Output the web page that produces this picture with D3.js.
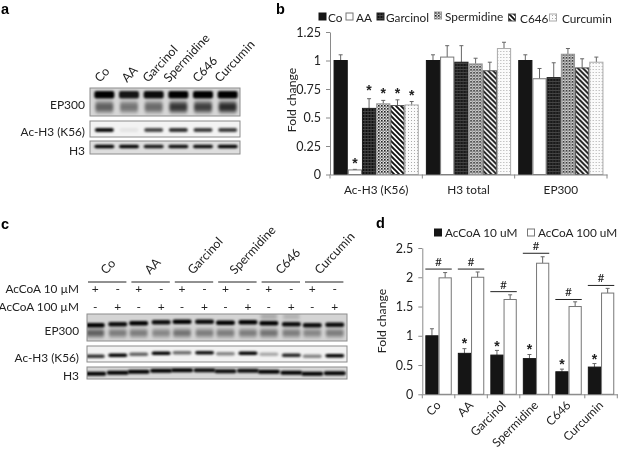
<!DOCTYPE html>
<html>
<head>
<meta charset="utf-8">
<script src="https://cdnjs.cloudflare.com/ajax/libs/d3/7.8.5/d3.min.js"></script>
<style>
  body { margin: 0; background: #fff; }
  text { font-family: Lato, "Open Sans", sans-serif; fill: #222; }
  .letter { font-family: "Liberation Sans", Arial, sans-serif; font-weight: bold; font-size: 14.5px; fill: #000; }
  .star { font-family: "Liberation Sans", Arial, sans-serif; font-weight: bold; font-size: 14px; fill: #222; }
  .axis path, .axis line { stroke: #8a8a8a; }
  .axis text { font-size: 12.5px; fill: #222; font-family: Lato, sans-serif; }
</style>
</head>
<body>
<div class="canvas"></div>
<script>
// ---- data ----
const treatments = ['Co', 'AA', 'Garcinol', 'Spermidine', 'C646', 'Curcumin'];
const markers = ['Ac-H3 (K56)', 'H3 total', 'EP300'];

// panel b, one row per marker, one value per treatment
const acH3Values = [1, 0.04, 0.58, 0.62, 0.605, 0.61];
const acH3Tops = [1.05, 0.045, 0.665, 0.65, 0.655, 0.64];
const h3Values = [1, 1.03, 0.985, 0.97, 0.91, 1.105];
const h3Tops = [1.05, 1.13, 1.13, 1.02, 0.985, 1.16];
const ep300Values = [1, 0.84, 0.85, 1.055, 0.935, 0.985];
const ep300Tops = [1.05, 0.93, 0.98, 1.105, 1.015, 1.03];
const acH3Stars = [null, 0.117, 0.76, 0.736, 0.736, 0.718];

// panel d
const doses = ['AcCoA 10 uM', 'AcCoA 100 uM'];
const low = [1, 0.7, 0.67, 0.61, 0.385, 0.465];
const lowTops = [1.12, 0.78, 0.75, 0.68, 0.43, 0.525];
const high = [1.99, 2.0, 1.62, 2.24, 1.5, 1.73];
const highTops = [2.08, 2.09, 1.7, 2.35, 1.58, 1.81];
const lowStars = [null, 0.917, 0.86, 0.8, 0.547, 0.643];
const brackets = [2.14, 2.14, 1.754, 2.41, 1.62, 1.86];

// blot a, band darkness per lane
const aEp300Main = [1, 0.9, 0.95, 1, 1, 1];
const aEp300Smear = [0.55, 0.45, 0.5, 0.75, 0.7, 0.8];
const aAcH3 = [0.95, 0.06, 0.7, 0.8, 0.75, 0.75];
const aH3 = [1, 1, 0.9, 0.95, 0.95, 1];

// blot c, band darkness per lane (10 uM, 100 uM alternating)
const cEp300Main = [1, 0.95, 1, 0.95, 1, 0.95, 1, 1, 1, 0.95, 0.95, 0.95];
const cEp300Smear = [0.6, 0.45, 0.45, 0.4, 0.5, 0.45, 0.45, 0.45, 0.5, 0.45, 0.4, 0.45];
const cEp300Upper = [0, 0, 0, 0, 0, 0, 0, 0, 0.25, 0.2, 0, 0];
const cAcH3 = [0.8, 1, 0.6, 1, 0.55, 0.95, 0.45, 1, 0.3, 0.85, 0.45, 1];
const cH3 = [1, 1, 1, 1, 1, 0.95, 0.95, 0.95, 1, 1, 1, 1];
const cTilt = [1.5, 0.5, -0.5, -1.5, -2, -2, -1, -1.5, -0.5, 0.5, 1.5, 1];
const cPlus10 = ['+', '-', '+', '-', '+', '-', '+', '-', '+', '-', '+', '-'];
const cPlus100 = ['-', '+', '-', '+', '-', '+', '-', '+', '-', '+', '-', '+'];

//svg setup
const svg = d3.select('.canvas').append('svg')
  .attr('width', 618).attr('height', 452)
  .style('display', 'block')
  .style('filter', 'blur(0.3px)'); // the reference is a soft low-res scan
const defs = svg.append('defs');

defs.append('filter').attr('id', 'soft')
  .attr('x', '-30%').attr('y', '-80%').attr('width', '160%').attr('height', '260%')
  .append('feGaussianBlur').attr('stdDeviation', '1.1 0.8');
defs.append('filter').attr('id', 'softer')
  .attr('x', '-30%').attr('y', '-80%').attr('width', '160%').attr('height', '260%')
  .append('feGaussianBlur').attr('stdDeviation', '1.6 2');

// bar fills
const pat = (id, size, bg, draw) => {
  const p = defs.append('pattern').attr('id', id)
    .attr('patternUnits', 'userSpaceOnUse').attr('width', size).attr('height', size);
  p.append('rect').attr('width', size).attr('height', size).attr('fill', bg);
  draw(p);
};
pat('garcinol', 3, '#2a2a2a', p => {
  p.append('rect').attr('width', 1).attr('height', 3).attr('fill', '#111');
  p.append('rect').attr('width', 3).attr('height', 1).attr('fill', '#444');
});
pat('spermidine', 3, '#e4e4e4', p => {
  p.append('rect').attr('width', 1.6).attr('height', 1.6).attr('fill', '#222');
  p.append('rect').attr('x', 1.5).attr('y', 1.5).attr('width', 1.2).attr('height', 1.2).attr('fill', '#444');
});
pat('c646', 5, '#fff', p => {
  p.append('path').attr('d', 'M-1,-1L6,6M-1,4L1,6M4,-1L6,1')
    .attr('stroke', '#111').attr('stroke-width', 1.9);
});
pat('curcumin', 3, '#fbfbfb', p => {
  p.append('rect').attr('width', 1).attr('height', 1).attr('fill', '#aaa');
});
const fills = ['#151515', '#fff', 'url(#garcinol)', 'url(#spermidine)', 'url(#c646)', 'url(#curcumin)'];
const strokes = ['#151515', '#777', '#222', '#999', '#555', '#aaa'];

const label = (x, y, txt, size, anchor, rotate) => svg.append('text')
  .attr('transform', `translate(${x},${y})` + (rotate ? ` rotate(${rotate})` : ''))
  .attr('text-anchor', anchor || 'start')
  .attr('font-size', size || 12)
  .text(txt);

[['a', 1, 14], ['b', 276, 14], ['c', 1, 229], ['d', 376, 228]].forEach(d => {
  svg.append('text').attr('class', 'letter').attr('x', d[1]).attr('y', d[2]).text(d[0]);
});

// ---- western blots ----
const drawBlot = (x0, x1, y0, y1, bg, bands) => {
  const id = 'clip' + Math.round(y0);
  defs.append('clipPath').attr('id', id).append('rect')
    .attr('x', x0).attr('y', y0).attr('width', x1 - x0).attr('height', y1 - y0);
  const g = svg.append('g');
  g.append('rect').attr('x', x0).attr('y', y0).attr('width', x1 - x0).attr('height', y1 - y0)
    .attr('fill', bg);
  const inner = g.append('g').attr('clip-path', `url(#${id})`);
  bands.forEach(b => {
    inner.selectAll(null).data(b.values).join('rect')
      .attr('x', (d, i) => b.x(i) - b.w / 2)
      .attr('y', (d, i) => y0 + b.at * (y1 - y0) - b.h / 2 + (b.tilt ? b.tilt[i] : 0))
      .attr('width', b.w).attr('height', b.h)
      .attr('rx', 2)
      .attr('fill', '#050505').attr('fill-opacity', d => d)
      .attr('filter', `url(#${b.blur || 'soft'})`);
  });
  g.append('rect').attr('x', x0).attr('y', y0).attr('width', x1 - x0).attr('height', y1 - y0)
    .attr('fill', 'none').attr('stroke', '#8c8c8c');
};

// blot a
const laneA = d3.scaleBand().domain(treatments).range([92, 240]);
const ax = i => laneA(treatments[i]) + laneA.bandwidth() / 2;
drawBlot(90, 240, 88, 116, '#d6d6d6', [
  { x: ax, at: 0.24, h: 7.5, w: 20, values: aEp300Main },
  { x: ax, at: 0.68, h: 10, w: 18, values: aEp300Smear, blur: 'softer' }
]);
drawBlot(90, 240, 121, 137, '#f3f3f3', [{ x: ax, at: 0.56, h: 4, w: 19, values: aAcH3 }]);
drawBlot(90, 240, 141, 154, '#dedede', [{ x: ax, at: 0.42, h: 3.5, w: 20, values: aH3 }]);

const aTextX = [100, 127, 148, 169, 198, 220];
treatments.forEach((t, i) => label(aTextX[i], 83, t, 12.3, 'start', -47));
label(85, 109, 'EP300', 12, 'end');
label(85, 136, 'Ac-H3 (K56)', 11.8, 'end');
label(85, 155, 'H3', 12, 'end');

// blot c
const groupC = d3.scaleBand().domain(treatments).range([85, 345.4]);
const innerC = d3.scaleBand().domain(doses).range([-1, 44]);
const cx = i => groupC(treatments[Math.floor(i / 2)]) + innerC(doses[i % 2]) + innerC.bandwidth() / 2;
drawBlot(87, 347, 314, 341, '#d4d4d4', [
  { x: cx, at: 0.09, h: 5, w: 17, values: cEp300Upper, blur: 'softer' },
  { x: cx, at: 0.36, h: 4.5, w: 19, values: cEp300Main, tilt: cTilt },
  { x: cx, at: 0.7, h: 7, w: 18, values: cEp300Smear, blur: 'softer' }
]);
drawBlot(87, 347, 346, 362, '#f2f2f2', [{ x: cx, at: 0.55, h: 3.5, w: 19, values: cAcH3, tilt: cTilt }]);
drawBlot(87, 347, 367, 379, '#d8d8d8', [{ x: cx, at: 0.44, h: 4, w: 22, values: cH3, tilt: cTilt }]);

const cTextX = [106, 150, 193, 235, 281, 320];
treatments.forEach((t, i) => {
  label(cTextX[i], 275, t, 12.3, 'start', -47);
  svg.append('line')
    .attr('x1', groupC(t) + 3).attr('x2', groupC(t) + groupC.bandwidth() - 2)
    .attr('y1', 282).attr('y2', 282).attr('stroke', '#222').attr('stroke-width', 1);
});
cPlus10.forEach((s, i) => label(cx(i), 293, s, 12, 'middle'));
cPlus100.forEach((s, i) => label(cx(i), 311, s, 12, 'middle'));
label(79, 293, 'AcCoA 10 µM', 11.8, 'end');
label(79, 311, 'AcCoA 100 µM', 11.8, 'end');
label(79, 335, 'EP300', 11.8, 'end');
label(79, 362, 'Ac-H3 (K56)', 11.8, 'end');
label(79, 380, 'H3', 12, 'end');

// ---- panel b ----
const yB = d3.scaleLinear().domain([0, 1.25]).range([174.5, 32]);
const xB = d3.scaleBand().domain(markers).range([330, 607]);
const barB = d3.scaleBand().domain(treatments).range([0, xB.bandwidth()]).paddingOuter(0.25).paddingInner(0);
const rowsB = [
  { name: markers[0], values: acH3Values, tops: acH3Tops },
  { name: markers[1], values: h3Values, tops: h3Tops },
  { name: markers[2], values: ep300Values, tops: ep300Tops }
];

svg.append('g').attr('class', 'axis')
  .attr('transform', 'translate(330,0)')
  .call(d3.axisLeft(yB).tickValues([0, 0.25, 0.5, 0.75, 1, 1.25]).tickFormat(d3.format('')).tickSize(4).tickSizeOuter(0).tickPadding(5));

rowsB.forEach(row => {
  const g = svg.append('g').attr('transform', `translate(${xB(row.name)},0)`);
  g.selectAll('.err').data(row.tops).join('path')
    .attr('fill', 'none').attr('stroke', '#666')
    .attr('d', (d, i) => {
      const c = barB(treatments[i]) + barB.bandwidth() / 2;
      return `M${c},${yB(row.values[i])}V${yB(d)}M${c - 2},${yB(d)}H${c + 2}`;
    });
  g.selectAll('.bar').data(row.values).join('rect')
    .attr('x', (d, i) => barB(treatments[i]) + 0.5)
    .attr('width', barB.bandwidth() - 1)
    .attr('y', d => yB(d))
    .attr('height', d => yB(0) - yB(d))
    .attr('fill', (d, i) => fills[i])
    .attr('stroke', (d, i) => strokes[i]);
});

const groupAxisB = svg.append('g').attr('class', 'axis').attr('transform', `translate(0,${yB(0)})`)
  .call(d3.axisBottom(xB).tickSize(0).tickPadding(11));
groupAxisB.selectAll('.tick text').style('font-size', '11.8px');
[...markers.map(m => xB(m)), 607].forEach(p => groupAxisB.append('line').attr('x1', p).attr('x2', p).attr('y2', 4));

// stars, first group only
acH3Stars.forEach((s, i) => {
  if (s === null) return;
  svg.append('text').attr('class', 'star').attr('text-anchor', 'middle')
    .attr('x', xB(markers[0]) + barB(treatments[i]) + barB.bandwidth() / 2)
    .attr('y', yB(s) + 7).text('*');
});

label(296, 100, 'Fold change', 12.2, 'middle', -90);

// legend b
const legendB = [[319, 328, 22], [346, 356, 22], [377, 386, 22], [434.5, 445, 21], [508.5, 520, 23], [549.5, 562, 23]];
treatments.forEach((t, i) => {
  const l = legendB[i];
  svg.append('rect').attr('x', l[0]).attr('y', l[2] - 9).attr('width', 7).attr('height', 7)
    .attr('fill', fills[i]).attr('stroke', strokes[i]);
  label(l[1], l[2], t, 11.8);
});

// ---- panel d ----
const yD = d3.scaleLinear().domain([0, 2.5]).range([394.3, 248]);
const xD = d3.scaleBand().domain(treatments).range([422.3, 617.3]);
const barD = d3.scaleBand().domain(doses).range([0, xD.bandwidth()]).paddingOuter(0.23);

svg.append('g').attr('class', 'axis').attr('transform', 'translate(422.3,0)')
  .call(d3.axisLeft(yD).tickValues([0, 0.5, 1, 1.5, 2, 2.5]).tickFormat(d3.format('')).tickSize(4).tickSizeOuter(0).tickPadding(5));

const seriesD = [
  { dose: doses[0], values: low, tops: lowTops, fill: '#151515', stroke: '#151515' },
  { dose: doses[1], values: high, tops: highTops, fill: '#fff', stroke: '#777' }
];
seriesD.forEach(s => {
  const bx = i => xD(treatments[i]) + barD(s.dose);
  svg.append('g').selectAll('path').data(s.tops).join('path')
    .attr('fill', 'none').attr('stroke', '#666')
    .attr('d', (d, i) => {
      const c = bx(i) + barD.bandwidth() / 2;
      return `M${c},${yD(s.values[i])}V${yD(d)}M${c - 2},${yD(d)}H${c + 2}`;
    });
  svg.append('g').selectAll('rect').data(s.values).join('rect')
    .attr('x', (d, i) => bx(i) + 0.5)
    .attr('width', barD.bandwidth() - 1)
    .attr('y', d => yD(d))
    .attr('height', d => yD(0) - yD(d))
    .attr('fill', s.fill).attr('stroke', s.stroke);
});

const axisD = svg.append('g').attr('class', 'axis').attr('transform', `translate(0,${yD(0)})`)
  .call(d3.axisBottom(xD).tickSize(0).tickFormat(''));
[...treatments.map(t => xD(t)), 617.3].forEach(p => axisD.append('line').attr('x1', p).attr('x2', p).attr('y2', 4));

treatments.forEach((t, i) => {
  const c = xD(t) + xD.bandwidth() / 2;
  label(c + 3, 406, t, 12, 'end', -45);
  // significance bracket
  svg.append('line').attr('x1', xD(t) + barD(doses[0])).attr('x2', xD(t) + barD(doses[1]) + barD.bandwidth())
    .attr('y1', yD(brackets[i])).attr('y2', yD(brackets[i])).attr('stroke', '#222');
  svg.append('text').attr('text-anchor', 'middle').attr('font-size', 12)
    .attr('x', c).attr('y', yD(brackets[i]) - 3).text('#');
  if (lowStars[i] !== null) {
    svg.append('text').attr('class', 'star').attr('text-anchor', 'middle')
      .attr('x', xD(t) + barD(doses[0]) + barD.bandwidth() / 2)
      .attr('y', yD(lowStars[i]) + 7).text('*');
  }
});

label(386, 321, 'Fold change', 12.2, 'middle', -90);

// legend d
svg.append('rect').attr('x', 434.5).attr('y', 229).attr('width', 7).attr('height', 7).attr('fill', '#151515').attr('stroke', '#151515');
label(445, 237, doses[0], 11.8);
svg.append('rect').attr('x', 527.5).attr('y', 229).attr('width', 7).attr('height', 7).attr('fill', '#fff').attr('stroke', '#777');
label(538, 237, doses[1], 11.8);
</script>
</body>
</html>
